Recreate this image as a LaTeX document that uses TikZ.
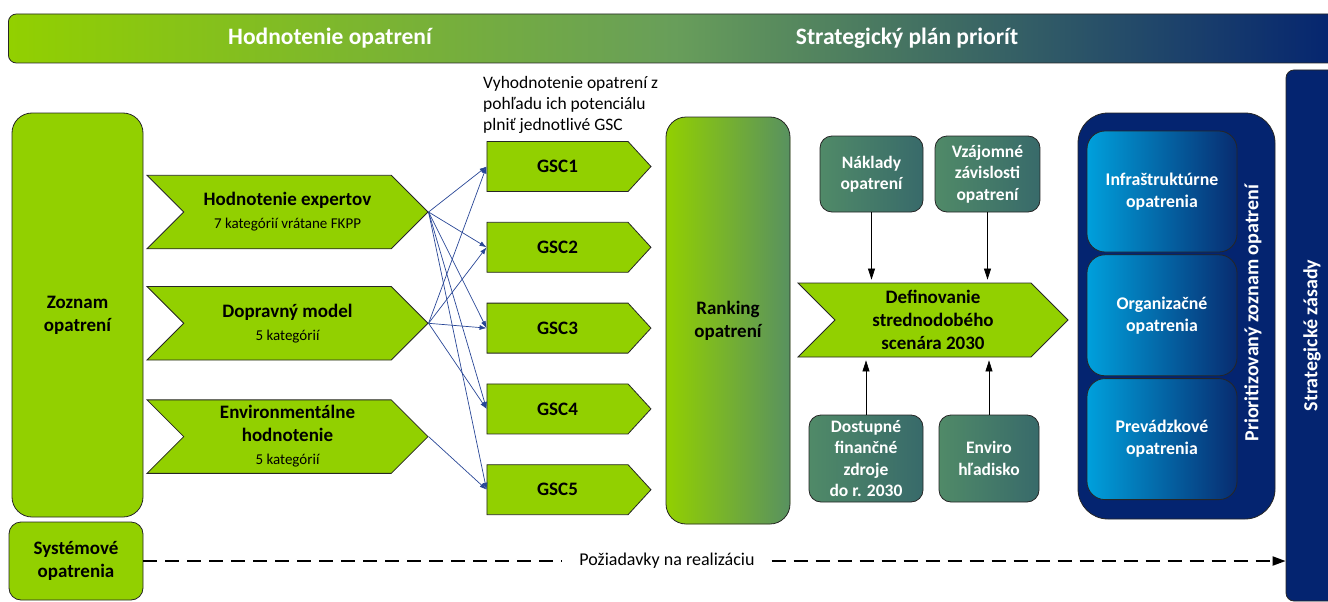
\documentclass[tikz,border=0pt]{standalone}
\usepackage{fontspec}
\setmainfont{Carlito}
\usetikzlibrary{arrows.meta, positioning, shapes.symbols}

\definecolor{kvgreen}{RGB}{146,208,0}
\definecolor{kvnavy}{RGB}{4,36,112}
\definecolor{kvmidgreen}{RGB}{104,158,90}
\definecolor{kvsage}{RGB}{88,145,96}
\definecolor{kvtealL}{RGB}{80,138,104}
\definecolor{kvtealR}{RGB}{56,106,106}
\definecolor{kvcyan}{RGB}{0,160,220}
\definecolor{kvdeep}{RGB}{8,44,112}
\definecolor{kvlink}{RGB}{40,70,150}

\newcommand\kvsub[1]{{\normalfont\fontsize{15}{18}\selectfont #1}}

\begin{document}
\begin{tikzpicture}[
  x=1pt, y=-1pt,
  lbl/.style={font=\bfseries\fontsize{19}{23}\selectfont},
  box/.style={draw=black!85, line width=0.8pt, align=center, inner sep=0pt, lbl},
  greenbox/.style={box, fill=kvgreen, rounded corners=20pt},
  chev/.style={signal, signal from=west, signal to=east, signal pointer angle=90, draw=black!85, line width=0.8pt, fill=kvgreen, align=center, inner sep=0pt, lbl},
  gscbox/.style={chev, signal from=nowhere, signal pointer angle=95, minimum width=164pt, minimum height=50pt},
  tealbox/.style={box, rounded corners=12pt, left color=kvtealL, right color=kvtealR, text=white, font=\bfseries\fontsize{17.5}{21.5}\selectfont},
  bluebox/.style={box, rounded corners=18pt, left color=kvcyan, right color=kvdeep, text=white, font=\bfseries\fontsize{17.8}{22}\selectfont, minimum width=150pt, minimum height=121pt},
  headtxt/.style={text=white, font=\bfseries\fontsize{23.5}{28}\selectfont},
  vertxt/.style={rotate=90, text=white, font=\bfseries\fontsize{20}{24}\selectfont},
  arrow/.style={-{Triangle[length=11pt,width=7pt]}, line width=0.7pt, shorten >=3pt},
  link/.style={-{Latex[length=7pt,width=5pt]}, kvlink, line width=0.7pt},
  dasharrow/.style={line width=2pt, dash pattern=on 14pt off 8pt}
]
\path[use as bounding box, clip] (0,0) rectangle (1328,602);

\node[box, rounded corners=8pt, minimum width=1332pt, minimum height=49pt, left color=kvgreen, right color=kvnavy, middle color=kvmidgreen, anchor=west] (banner) at (8,38.5) {};
\node[headtxt] (evalhead) at (330,38.5) {Hodnotenie opatrení};
\node[headtxt] (planhead) at (907,38.5) {Strategický plán priorít};

\node[greenbox, minimum width=131pt, minimum height=404pt] (zoznam) at (77.5,315) {Zoznam\\opatrení};
\node[greenbox, rounded corners=12pt, minimum width=134pt, minimum height=78pt] (system) at (76,561) {Systémové\\opatrenia};

\node[chev, minimum width=281pt, minimum height=73.5pt] (expert) at (287.5,212) {Hodnotenie expertov\\\kvsub{7 kategórií vrátane FKPP}};
\node[chev, minimum width=281pt, minimum height=73.5pt, below=37pt of expert] (traffic) {Dopravný model\\\kvsub{5 kategórií}};
\node[chev, minimum width=281pt, minimum height=73.5pt, below=39pt of traffic] (environ) {Environmentálne\\hodnotenie\\\kvsub{5 kategórií}};

\node[align=left, anchor=west, inner sep=4pt, font=\fontsize{17.5}{21}\selectfont] (gscnote) at (479,105) {Vyhodnotenie opatrení z\\pohľadu ich potenciálu\\plniť jednotlivé GSC};

\node[gscbox] (gsc1) at (557.5,166.5) {GSC1};
\node[gscbox, below=30pt of gsc1] (gsc2) {GSC2};
\node[gscbox, below=30pt of gsc2] (gsc3) {GSC3};
\node[gscbox, below=30pt of gsc3] (gsc4) {GSC4};
\node[gscbox, below=30pt of gsc4] (gsc5) {GSC5};

\draw[link] (expert.east) -- (gsc1.west);
\draw[link] (expert.east) -- (gsc2.west);
\draw[link] (expert.east) -- (gsc3.west);
\draw[link] (expert.east) -- (gsc4.west);
\draw[link] (expert.east) -- (gsc5.west);
\draw[link] (traffic.east) -- (gsc1.west);
\draw[link] (traffic.east) -- (gsc2.west);
\draw[link] (traffic.east) -- (gsc3.west);
\draw[link] (traffic.east) -- (gsc4.west);
\draw[link] (environ.east) -- (gsc5.west);

\node[greenbox, minimum width=124pt, minimum height=407pt, left color=kvgreen, right color=kvsage] (ranking) at (728,320.5) {Ranking\\opatrení};

\node[tealbox, minimum width=103pt, minimum height=76pt] (costs) at (871.5,174) {Náklady\\opatrení};
\node[tealbox, minimum width=105pt, minimum height=76pt] (depend) at (987.5,174) {Vzájomné\\závislosti\\opatrení};
\node[chev, minimum width=270pt, minimum height=74pt] (scenario) at (933,320) {Definovanie\\strednodobého\\scenára 2030};
\node[tealbox, minimum width=114pt, minimum height=87pt] (funds) at (866,458.5) {Dostupné\\finančné\\zdroje\\do r. 2030};
\node[tealbox, minimum width=100pt, minimum height=87pt] (enviro) at (989,458.5) {Enviro\\hľadisko};

\draw[arrow] (costs) -- (costs.south |- scenario.north);
\draw[arrow] (depend) -- (depend.south |- scenario.north);
\draw[arrow] (funds) -- (funds.north |- scenario.south);
\draw[arrow] (enviro) -- (enviro.north |- scenario.south);

\node[box, rounded corners=30pt, fill=kvnavy, minimum width=197pt, minimum height=406pt] (priority) at (1176.5,316) {};
\node[bluebox] (infra) at (1162,191.5) {Infraštruktúrne\\opatrenia};
\node[bluebox, below=2pt of infra] (org) {Organizačné\\opatrenia};
\node[bluebox, below=2pt of org] (oper) {Prevádzkové\\opatrenia};
\node[vertxt] (priolabel) at (1253,313) {Prioritizovaný zoznam opatrení};

\node[box, rounded corners=8pt, fill=kvnavy, minimum width=52pt, minimum height=531pt] (strategy) at (1312,335.5) {};
\node[vertxt] (stratlabel) at (strategy.center) {Strategické zásady};

\node[font=\fontsize{18}{22}\selectfont, inner xsep=17pt] (req) at (667,561) {Požiadavky na realizáciu};
\draw[dasharrow] (system.east) -- (req.west);
\draw[dasharrow, -{Triangle[length=13pt,width=9pt]}] (req.east) -- (req.east -| strategy.west);
\end{tikzpicture}
\end{document}
